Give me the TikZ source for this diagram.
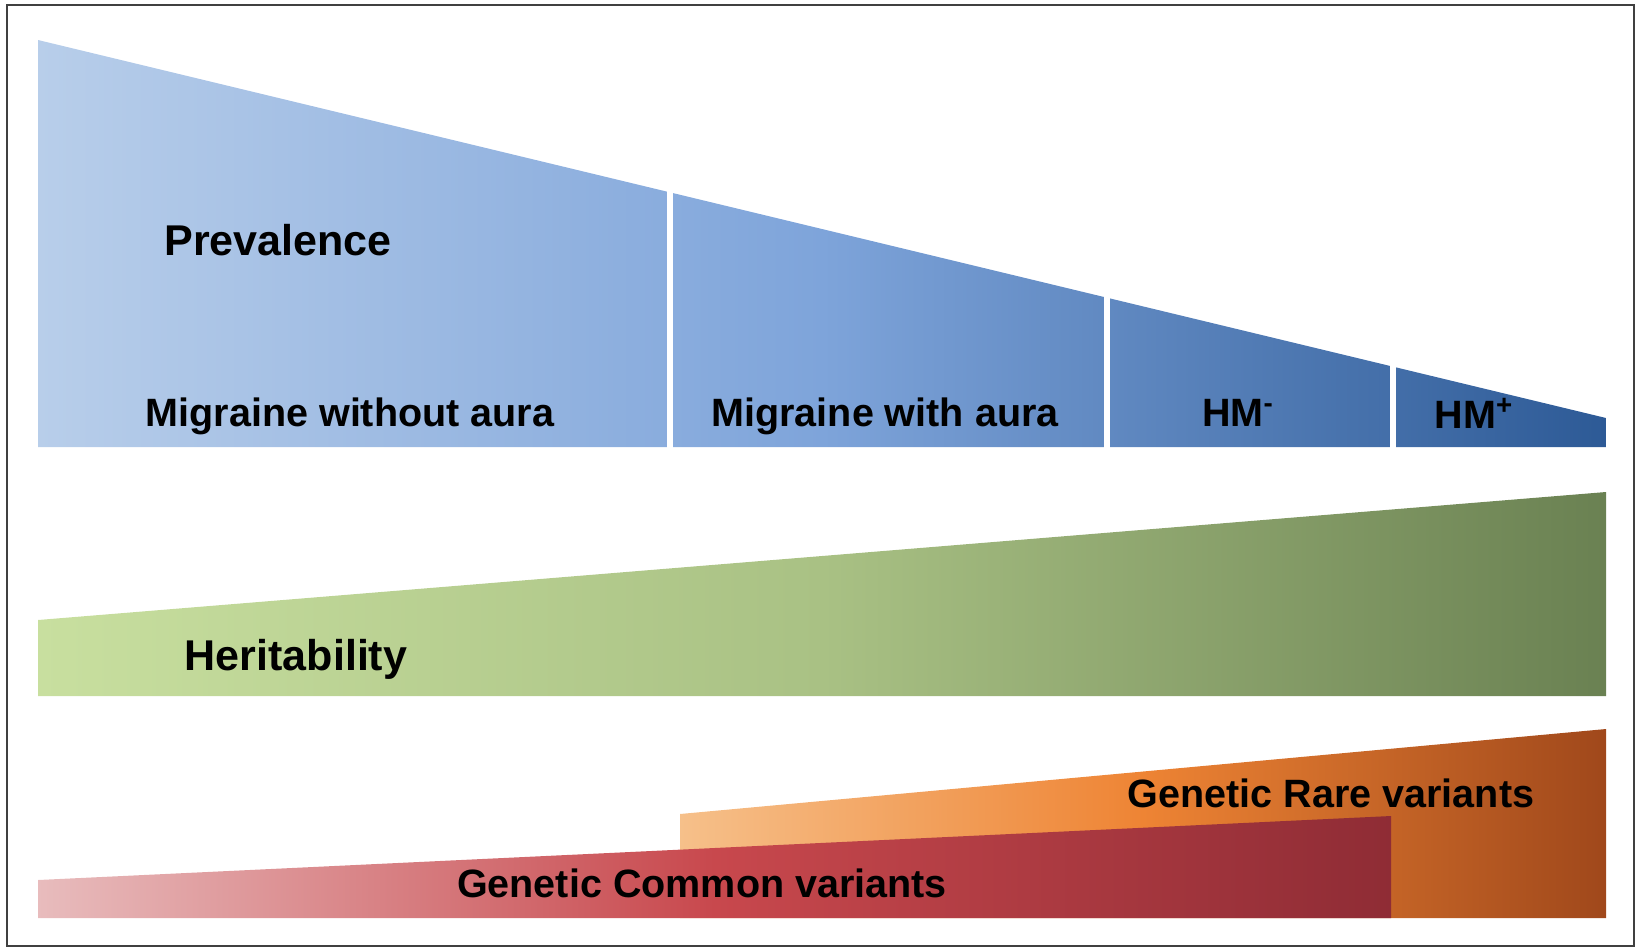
\documentclass[tikz,border=0pt]{standalone}
\usepackage{fontspec}
\setmainfont{Liberation Sans}
\usepackage{tikz}
\usetikzlibrary{positioning}
\usepackage{xcolor}

\definecolor{prevlight}{HTML}{B8CEEA}
\definecolor{prevmid}{HTML}{7EA4DA}
\definecolor{prevdark}{HTML}{2D5A96}
\definecolor{herlight}{HTML}{C8DF9F}
\definecolor{hermid}{HTML}{A9C184}
\definecolor{herdark}{HTML}{6A8152}
\definecolor{comlight}{HTML}{E8BCBD}
\definecolor{commid}{HTML}{C8484D}
\definecolor{comdark}{HTML}{8F2C35}
\definecolor{rarelight}{HTML}{F6C08A}
\definecolor{raremid}{HTML}{EE8434}
\definecolor{raredark}{HTML}{A0481B}

\begin{document}
\begin{tikzpicture}[x=0.02cm, y=-0.02cm,
    bandtext/.style={font=\fontsize{22.5}{26}\selectfont\bfseries, text=black, inner sep=0pt, anchor=base},
    bigtext/.style={bandtext, font=\fontsize{24.5}{28}\selectfont\bfseries},
    gap/.style={draw=white, line width=0.12cm}]
    \useasboundingbox (0,0) rectangle (1638,948);
    \draw[line width=0.05cm, black!75] (7,5) rectangle (1634,946);

    \shade[left color=prevlight, right color=prevdark, middle color=prevmid] (38,40) -- (1606,418) -- (1606,447) -- (38,447) -- cycle;
    \draw[gap] (670,30) -- (670,452);
    \draw[gap] (1107,30) -- (1107,452);
    \draw[gap] (1393,30) -- (1393,452);

    \shade[left color=herlight, right color=herdark, middle color=hermid] (38,620) -- (1606,492) -- (1606,696) -- (38,696) -- cycle;

    \shade[left color=rarelight, right color=raredark, middle color=raremid] (680,814) -- (1606,729) -- (1606,918) -- (680,918) -- cycle;
    \shade[left color=comlight, right color=comdark, middle color=commid] (38,880) -- (1391,816) -- (1391,918) -- (38,918) -- cycle;

    \node[bigtext] (prevalence) at (278,255) {Prevalence};
    \node[bandtext] (mwo) at (350,426) {Migraine without aura};
    \node[bandtext] (mwa) at (885,426) {Migraine with aura};
    \node[bandtext] (hmminus) at (1238,426) {HM\textsuperscript{-}};
    \node[bandtext] (hmplus) at (1474,428) {HM\textsuperscript{+}};
    \node[bigtext] (heritability) at (296,670) {Heritability};
    \node[bandtext] (rare) at (1331,807) {Genetic Rare variants};
    \node[bandtext] (common) at (702,897) {Genetic Common variants};
\end{tikzpicture}
\end{document}
